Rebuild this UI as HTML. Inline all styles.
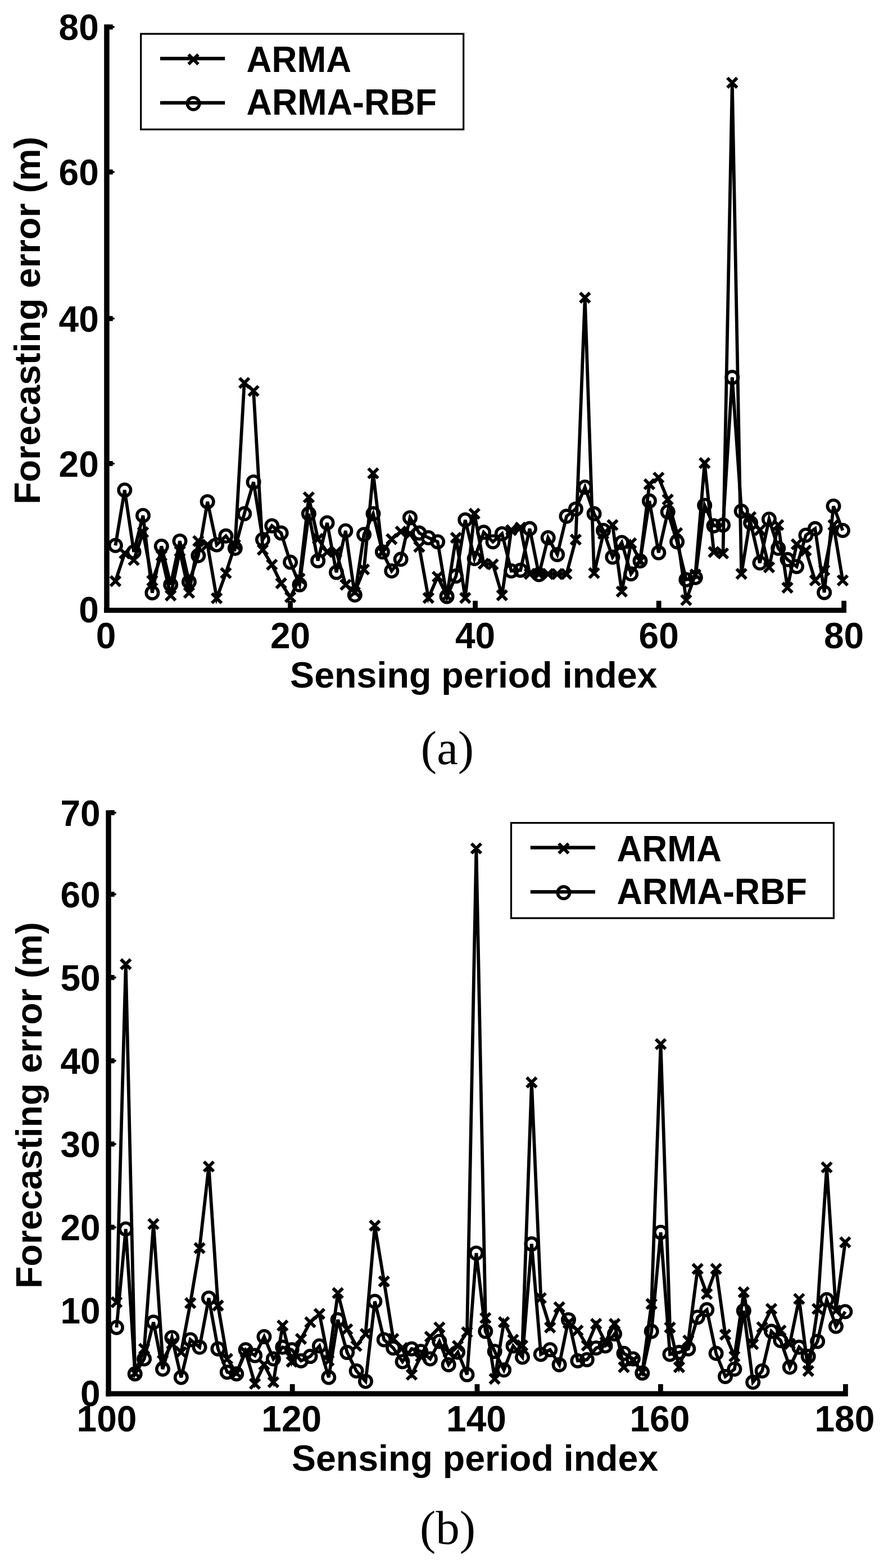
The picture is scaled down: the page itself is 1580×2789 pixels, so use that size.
<!DOCTYPE html>
<html lang="en">
<head>
<meta charset="utf-8">
<title>Forecasting error</title>
<style>
html,body{margin:0;padding:0;background:#fff}
body{width:1580px;height:2789px;overflow:hidden}
figure{margin:0;padding:0;display:block;width:1580px}
svg{display:block}
</style>
</head>
<body>
<figure id="fig-a">
<svg width="1580" height="1395" viewBox="0 0 1580 1395">
<g fill="none" stroke="#000" stroke-width="5.8" stroke-linejoin="miter" stroke-linecap="butt">
<polyline points="205.4,970.2 221.8,871.7 238.1,981.8 254.5,917 270.9,1054.4 287.3,971.5 303.7,1040.1 320,962.4 336.4,1035 352.8,988.3 369.2,892.4 385.6,968.9 401.9,953.3 418.3,975.3 434.7,913.8 451.1,857.4 467.5,959.8 483.8,935.2 500.2,948.1 516.6,1000 533,1040.1 549.4,913.8 565.7,997.4 582.1,930 598.5,1018.1 614.9,944.2 631.3,1058.3 647.6,950.7 664,913.8 680.4,981.8 696.8,1015.5 713.2,994.8 729.5,920.9 745.9,948.1 762.3,956.5 778.7,963.7 795.1,1060.9 811.4,1024.6 827.8,924.8 844.2,993.5 860.6,946.8 877,963.7 893.3,949.4 909.7,1015.5 926.1,1014.2 942.5,940.3 958.9,1022 975.2,956.5 991.6,986.4 1008,918.3 1024.4,905.4 1040.8,866.5 1057.1,913.8 1073.5,943.5 1089.9,990.9 1106.3,965 1122.7,1020.7 1139,997.8 1155.4,891.1 1171.8,983.1 1188.2,910.5 1204.6,963.7 1220.9,1031.1 1237.3,1027.2 1253.7,898.9 1270.1,935.2 1286.5,933.9 1302.8,671.3 1319.2,909.2 1335.6,930 1352,1001.3 1368.4,923.5 1384.7,975.3 1401.1,995.3 1417.5,1007.7 1433.9,952 1450.3,940.3 1466.6,1053.9 1483,900.2 1499.4,943.5"/>
<polyline points="205.4,1033.7 221.8,984.4 238.1,996.1 254.5,946.8 270.9,1032.9 287.3,988.3 303.7,1059.2 320,980.5 336.4,1054.4 352.8,962.4 369.2,968.9 385.6,1064.1 401.9,1019.4 418.3,968.9 434.7,681.1 451.1,695.4 467.5,977.9 483.8,1004.4 500.2,1037.5 516.6,1062.2 533,1029.1 549.4,884.6 565.7,958.5 582.1,981.8 598.5,981.8 614.9,1040.1 631.3,1053.1 647.6,1012.9 664,841.9 680.4,981.8 696.8,959 713.2,945.5 729.5,949.4 745.9,972.7 762.3,1063.5 778.7,1025.9 795.1,1059.6 811.4,956.5 827.8,1063.5 844.2,913.8 860.6,1002.6 877,1003.9 893.3,1058.8 909.7,942.9 926.1,938.4 942.5,1020.7 958.9,1021 975.2,1021 991.6,1021 1008,1021 1024.4,959.8 1040.8,529.5 1057.1,1019.4 1073.5,949.4 1089.9,933.9 1106.3,1052.2 1122.7,966.3 1139,997.4 1155.4,861.3 1171.8,849.6 1188.2,888.5 1204.6,948.1 1220.9,1067.4 1237.3,1022 1253.7,823.7 1270.1,981.8 1286.5,984.4 1302.8,147.2 1319.2,1020.7 1335.6,919.6 1352,942.9 1368.4,1009 1384.7,933.9 1401.1,1045.3 1417.5,968.1 1433.9,979.2 1450.3,1032.4 1466.6,1014.2 1483,933.9 1499.4,1032.4"/>
</g>
<g fill="none" stroke="#000" stroke-width="5.6">
<circle cx="205.4" cy="970.2" r="10.7"/>
<circle cx="221.8" cy="871.7" r="10.7"/>
<circle cx="238.1" cy="981.8" r="10.7"/>
<circle cx="254.5" cy="917" r="10.7"/>
<circle cx="270.9" cy="1054.4" r="10.7"/>
<circle cx="287.3" cy="971.5" r="10.7"/>
<circle cx="303.7" cy="1040.1" r="10.7"/>
<circle cx="320" cy="962.4" r="10.7"/>
<circle cx="336.4" cy="1035" r="10.7"/>
<circle cx="352.8" cy="988.3" r="10.7"/>
<circle cx="369.2" cy="892.4" r="10.7"/>
<circle cx="385.6" cy="968.9" r="10.7"/>
<circle cx="401.9" cy="953.3" r="10.7"/>
<circle cx="418.3" cy="975.3" r="10.7"/>
<circle cx="434.7" cy="913.8" r="10.7"/>
<circle cx="451.1" cy="857.4" r="10.7"/>
<circle cx="467.5" cy="959.8" r="10.7"/>
<circle cx="483.8" cy="935.2" r="10.7"/>
<circle cx="500.2" cy="948.1" r="10.7"/>
<circle cx="516.6" cy="1000" r="10.7"/>
<circle cx="533" cy="1040.1" r="10.7"/>
<circle cx="549.4" cy="913.8" r="10.7"/>
<circle cx="565.7" cy="997.4" r="10.7"/>
<circle cx="582.1" cy="930" r="10.7"/>
<circle cx="598.5" cy="1018.1" r="10.7"/>
<circle cx="614.9" cy="944.2" r="10.7"/>
<circle cx="631.3" cy="1058.3" r="10.7"/>
<circle cx="647.6" cy="950.7" r="10.7"/>
<circle cx="664" cy="913.8" r="10.7"/>
<circle cx="680.4" cy="981.8" r="10.7"/>
<circle cx="696.8" cy="1015.5" r="10.7"/>
<circle cx="713.2" cy="994.8" r="10.7"/>
<circle cx="729.5" cy="920.9" r="10.7"/>
<circle cx="745.9" cy="948.1" r="10.7"/>
<circle cx="762.3" cy="956.5" r="10.7"/>
<circle cx="778.7" cy="963.7" r="10.7"/>
<circle cx="795.1" cy="1060.9" r="10.7"/>
<circle cx="811.4" cy="1024.6" r="10.7"/>
<circle cx="827.8" cy="924.8" r="10.7"/>
<circle cx="844.2" cy="993.5" r="10.7"/>
<circle cx="860.6" cy="946.8" r="10.7"/>
<circle cx="877" cy="963.7" r="10.7"/>
<circle cx="893.3" cy="949.4" r="10.7"/>
<circle cx="909.7" cy="1015.5" r="10.7"/>
<circle cx="926.1" cy="1014.2" r="10.7"/>
<circle cx="942.5" cy="940.3" r="10.7"/>
<circle cx="958.9" cy="1022" r="10.7"/>
<circle cx="975.2" cy="956.5" r="10.7"/>
<circle cx="991.6" cy="986.4" r="10.7"/>
<circle cx="1008" cy="918.3" r="10.7"/>
<circle cx="1024.4" cy="905.4" r="10.7"/>
<circle cx="1040.8" cy="866.5" r="10.7"/>
<circle cx="1057.1" cy="913.8" r="10.7"/>
<circle cx="1073.5" cy="943.5" r="10.7"/>
<circle cx="1089.9" cy="990.9" r="10.7"/>
<circle cx="1106.3" cy="965" r="10.7"/>
<circle cx="1122.7" cy="1020.7" r="10.7"/>
<circle cx="1139" cy="997.8" r="10.7"/>
<circle cx="1155.4" cy="891.1" r="10.7"/>
<circle cx="1171.8" cy="983.1" r="10.7"/>
<circle cx="1188.2" cy="910.5" r="10.7"/>
<circle cx="1204.6" cy="963.7" r="10.7"/>
<circle cx="1220.9" cy="1031.1" r="10.7"/>
<circle cx="1237.3" cy="1027.2" r="10.7"/>
<circle cx="1253.7" cy="898.9" r="10.7"/>
<circle cx="1270.1" cy="935.2" r="10.7"/>
<circle cx="1286.5" cy="933.9" r="10.7"/>
<circle cx="1302.8" cy="671.3" r="10.7"/>
<circle cx="1319.2" cy="909.2" r="10.7"/>
<circle cx="1335.6" cy="930" r="10.7"/>
<circle cx="1352" cy="1001.3" r="10.7"/>
<circle cx="1368.4" cy="923.5" r="10.7"/>
<circle cx="1384.7" cy="975.3" r="10.7"/>
<circle cx="1401.1" cy="995.3" r="10.7"/>
<circle cx="1417.5" cy="1007.7" r="10.7"/>
<circle cx="1433.9" cy="952" r="10.7"/>
<circle cx="1450.3" cy="940.3" r="10.7"/>
<circle cx="1466.6" cy="1053.9" r="10.7"/>
<circle cx="1483" cy="900.2" r="10.7"/>
<circle cx="1499.4" cy="943.5" r="10.7"/>
</g>
<path d="M198.8 1027.1l13.2 13.2m0 -13.2l-13.2 13.2M215.2 977.8l13.2 13.2m0 -13.2l-13.2 13.2M231.5 989.5l13.2 13.2m0 -13.2l-13.2 13.2M247.9 940.2l13.2 13.2m0 -13.2l-13.2 13.2M264.3 1026.3l13.2 13.2m0 -13.2l-13.2 13.2M280.7 981.7l13.2 13.2m0 -13.2l-13.2 13.2M297.1 1052.6l13.2 13.2m0 -13.2l-13.2 13.2M313.4 973.9l13.2 13.2m0 -13.2l-13.2 13.2M329.8 1047.8l13.2 13.2m0 -13.2l-13.2 13.2M346.2 955.8l13.2 13.2m0 -13.2l-13.2 13.2M362.6 962.3l13.2 13.2m0 -13.2l-13.2 13.2M379 1057.5l13.2 13.2m0 -13.2l-13.2 13.2M395.3 1012.8l13.2 13.2m0 -13.2l-13.2 13.2M411.7 962.3l13.2 13.2m0 -13.2l-13.2 13.2M428.1 674.5l13.2 13.2m0 -13.2l-13.2 13.2M444.5 688.8l13.2 13.2m0 -13.2l-13.2 13.2M460.9 971.3l13.2 13.2m0 -13.2l-13.2 13.2M477.2 997.8l13.2 13.2m0 -13.2l-13.2 13.2M493.6 1030.9l13.2 13.2m0 -13.2l-13.2 13.2M510 1055.6l13.2 13.2m0 -13.2l-13.2 13.2M526.4 1022.5l13.2 13.2m0 -13.2l-13.2 13.2M542.8 878l13.2 13.2m0 -13.2l-13.2 13.2M559.1 951.9l13.2 13.2m0 -13.2l-13.2 13.2M575.5 975.2l13.2 13.2m0 -13.2l-13.2 13.2M591.9 975.2l13.2 13.2m0 -13.2l-13.2 13.2M608.3 1033.5l13.2 13.2m0 -13.2l-13.2 13.2M624.7 1046.5l13.2 13.2m0 -13.2l-13.2 13.2M641 1006.3l13.2 13.2m0 -13.2l-13.2 13.2M657.4 835.3l13.2 13.2m0 -13.2l-13.2 13.2M673.8 975.2l13.2 13.2m0 -13.2l-13.2 13.2M690.2 952.4l13.2 13.2m0 -13.2l-13.2 13.2M706.6 938.9l13.2 13.2m0 -13.2l-13.2 13.2M722.9 942.8l13.2 13.2m0 -13.2l-13.2 13.2M739.3 966.1l13.2 13.2m0 -13.2l-13.2 13.2M755.7 1056.9l13.2 13.2m0 -13.2l-13.2 13.2M772.1 1019.3l13.2 13.2m0 -13.2l-13.2 13.2M788.5 1053l13.2 13.2m0 -13.2l-13.2 13.2M804.8 949.9l13.2 13.2m0 -13.2l-13.2 13.2M821.2 1056.9l13.2 13.2m0 -13.2l-13.2 13.2M837.6 907.2l13.2 13.2m0 -13.2l-13.2 13.2M854 996l13.2 13.2m0 -13.2l-13.2 13.2M870.4 997.3l13.2 13.2m0 -13.2l-13.2 13.2M886.7 1052.2l13.2 13.2m0 -13.2l-13.2 13.2M903.1 936.3l13.2 13.2m0 -13.2l-13.2 13.2M919.5 931.8l13.2 13.2m0 -13.2l-13.2 13.2M935.9 1014.1l13.2 13.2m0 -13.2l-13.2 13.2M952.3 1014.4l13.2 13.2m0 -13.2l-13.2 13.2M968.6 1014.4l13.2 13.2m0 -13.2l-13.2 13.2M985 1014.4l13.2 13.2m0 -13.2l-13.2 13.2M1001.4 1014.4l13.2 13.2m0 -13.2l-13.2 13.2M1017.8 953.2l13.2 13.2m0 -13.2l-13.2 13.2M1034.2 522.9l13.2 13.2m0 -13.2l-13.2 13.2M1050.5 1012.8l13.2 13.2m0 -13.2l-13.2 13.2M1066.9 942.8l13.2 13.2m0 -13.2l-13.2 13.2M1083.3 927.3l13.2 13.2m0 -13.2l-13.2 13.2M1099.7 1045.6l13.2 13.2m0 -13.2l-13.2 13.2M1116.1 959.7l13.2 13.2m0 -13.2l-13.2 13.2M1132.4 990.8l13.2 13.2m0 -13.2l-13.2 13.2M1148.8 854.7l13.2 13.2m0 -13.2l-13.2 13.2M1165.2 843l13.2 13.2m0 -13.2l-13.2 13.2M1181.6 881.9l13.2 13.2m0 -13.2l-13.2 13.2M1198 941.5l13.2 13.2m0 -13.2l-13.2 13.2M1214.3 1060.8l13.2 13.2m0 -13.2l-13.2 13.2M1230.7 1015.4l13.2 13.2m0 -13.2l-13.2 13.2M1247.1 817.1l13.2 13.2m0 -13.2l-13.2 13.2M1263.5 975.2l13.2 13.2m0 -13.2l-13.2 13.2M1279.9 977.8l13.2 13.2m0 -13.2l-13.2 13.2M1296.2 140.6l13.2 13.2m0 -13.2l-13.2 13.2M1312.6 1014.1l13.2 13.2m0 -13.2l-13.2 13.2M1329 913l13.2 13.2m0 -13.2l-13.2 13.2M1345.4 936.3l13.2 13.2m0 -13.2l-13.2 13.2M1361.8 1002.4l13.2 13.2m0 -13.2l-13.2 13.2M1378.1 927.3l13.2 13.2m0 -13.2l-13.2 13.2M1394.5 1038.7l13.2 13.2m0 -13.2l-13.2 13.2M1410.9 961.5l13.2 13.2m0 -13.2l-13.2 13.2M1427.3 972.6l13.2 13.2m0 -13.2l-13.2 13.2M1443.7 1025.8l13.2 13.2m0 -13.2l-13.2 13.2M1460 1007.6l13.2 13.2m0 -13.2l-13.2 13.2M1476.4 927.3l13.2 13.2m0 -13.2l-13.2 13.2M1492.8 1025.8l13.2 13.2m0 -13.2l-13.2 13.2" fill="none" stroke="#000" stroke-width="5.8" stroke-linecap="square"/>
<g fill="#000">
<rect x="185.2" y="43.4" width="9.5" height="1046.6"/>
<rect x="185.2" y="1081" width="1320.8" height="9"/>
<rect x="512.1" y="1068.6" width="8.8" height="13"/>
<rect x="841.2" y="1068.6" width="8.8" height="13"/>
<rect x="1167.8" y="1068.6" width="8.8" height="13"/>
<rect x="1497.2" y="1068.6" width="8.8" height="13"/>
<rect x="193.7" y="43.5" width="7" height="9"/>
<rect x="199.7" y="46.3" width="4" height="3.4"/>
<rect x="193.7" y="301.4" width="7" height="9"/>
<rect x="199.7" y="304.2" width="4" height="3.4"/>
<rect x="193.7" y="562.1" width="7" height="9"/>
<rect x="199.7" y="564.9" width="4" height="3.4"/>
<rect x="193.7" y="820" width="7" height="9"/>
<rect x="199.7" y="822.8" width="4" height="3.4"/>
</g>
<g font-family='"Liberation Sans", Arial, Helvetica, sans-serif' font-weight="bold" font-size="64" fill="#000">
<text x="188.6" y="1153" text-anchor="middle">0</text>
<text x="516.5" y="1153" text-anchor="middle">20</text>
<text x="845.6" y="1153" text-anchor="middle">40</text>
<text x="1172.2" y="1153" text-anchor="middle">60</text>
<text x="1501.6" y="1153" text-anchor="middle">80</text>
<text x="175.8" y="71" text-anchor="end">80</text>
<text x="175.8" y="329" text-anchor="end">60</text>
<text x="175.8" y="589.5" text-anchor="end">40</text>
<text x="175.8" y="847.5" text-anchor="end">20</text>
<text x="175.8" y="1107" text-anchor="end">0</text>
<text x="842.8" y="1222.8" text-anchor="middle" textLength="653.4" lengthAdjust="spacingAndGlyphs">Sensing period index</text>
<text transform="translate(70.8 570) rotate(-90)" text-anchor="middle" textLength="654" lengthAdjust="spacingAndGlyphs">Forecasting error (m)</text>
</g>
<text x="796" y="1358.6" text-anchor="middle" font-family='"Liberation Serif", "Times New Roman", serif' font-size="85" fill="#000">(a)</text>
<rect x="250.7" y="60.2" width="574" height="170" fill="#fff" stroke="#000" stroke-width="3.2"/>
<g fill="none" stroke="#000">
<path d="M285 104.2h115.2M285 182.8h115.2" stroke-width="6.3"/>
<path d="M337.5 99l13.2 13.2m0 -13.2l-13.2 13.2" stroke-width="5.8" stroke-linecap="square"/>
<circle cx="344.1" cy="184.3" r="10.7" stroke-width="5.6"/>
</g>
<g font-family='"Liberation Sans", Arial, Helvetica, sans-serif' font-weight="bold" font-size="65" fill="#000">
<text x="438.6" y="128.4" textLength="186.5" lengthAdjust="spacingAndGlyphs">ARMA</text>
<text x="438.6" y="204.1" textLength="338.6" lengthAdjust="spacingAndGlyphs">ARMA-RBF</text>
</g>
</svg>
</figure>
<figure id="fig-b">
<svg width="1580" height="1394" viewBox="0 1395 1580 1394">
<g fill="none" stroke="#000" stroke-width="5.8" stroke-linejoin="miter" stroke-linecap="butt">
<polyline points="207.4,2361.2 223.8,2186 240.2,2443.7 256.6,2417 273.1,2351.8 289.5,2435.2 305.9,2379.2 322.3,2450 338.7,2382.9 355.1,2396.3 371.5,2308.9 387.9,2399.2 404.3,2440.7 420.7,2443.7 437.1,2400.7 453.6,2411.1 470,2377.6 486.4,2417 502.8,2396.3 519.2,2400.7 535.6,2420.4 552,2412.6 568.4,2394 584.8,2450 601.2,2347.4 617.7,2405.6 634.1,2438.5 650.5,2457 666.9,2314.8 683.3,2382.9 699.7,2397.7 716.1,2422 732.5,2399.2 748.9,2403.7 765.4,2417 781.8,2385.9 798.2,2427.4 814.6,2405.1 831,2445.1 847.4,2228.9 863.8,2368.1 880.2,2403.7 896.6,2436.8 913,2394 929.5,2414 945.9,2212.6 962.3,2408.9 978.7,2400.7 995.1,2427.4 1011.5,2347.4 1027.9,2420.4 1044.3,2418.5 1060.7,2397.7 1077.1,2394 1093.5,2372.6 1110,2407.2 1126.4,2417 1142.8,2442.2 1159.2,2368.1 1175.6,2191.9 1192,2408.9 1208.4,2405.6 1224.8,2399.2 1241.2,2342.9 1257.7,2329.6 1274.1,2407.2 1290.5,2448.4 1306.9,2435.2 1323.3,2331.4 1339.7,2458.5 1356.1,2438.5 1372.5,2368.1 1388.9,2384.4 1405.3,2431.8 1421.8,2396.3 1438.2,2412.6 1454.6,2385.9 1471,2311.8 1487.4,2359.2 1503.8,2333"/>
<polyline points="207.4,2316.3 223.8,1715 240.2,2442.2 256.6,2399.2 273.1,2177.1 289.5,2420 305.9,2390.3 322.3,2405.1 338.7,2317.8 355.1,2220 371.5,2074.9 387.9,2322.2 404.3,2417 420.7,2442.2 437.1,2405.1 453.6,2461.4 470,2427.4 486.4,2458.5 502.8,2357.8 519.2,2422 535.6,2381.5 552,2351.8 568.4,2337 584.8,2420 601.2,2300 617.7,2364.4 634.1,2394 650.5,2372.6 666.9,2180 683.3,2279.3 699.7,2381.5 716.1,2397.7 732.5,2445.1 748.9,2412.6 765.4,2377.6 781.8,2361.2 798.2,2405.1 814.6,2394 831,2369.6 847.4,1509.1 863.8,2344.4 880.2,2452.5 896.6,2351.8 913,2382.9 929.5,2393.3 945.9,1925.3 962.3,2308.9 978.7,2361.2 995.1,2325.2 1011.5,2353.3 1027.9,2366.6 1044.3,2393.3 1060.7,2354.8 1077.1,2387.4 1093.5,2354.8 1110,2431.8 1126.4,2420 1142.8,2440.7 1159.2,2319.3 1175.6,1857.2 1192,2361.2 1208.4,2431.8 1224.8,2384.4 1241.2,2257 1257.7,2301.5 1274.1,2257 1290.5,2374 1306.9,2412.6 1323.3,2298.5 1339.7,2390.8 1356.1,2360.7 1372.5,2328.1 1388.9,2366.6 1405.3,2390.3 1421.8,2310.4 1438.2,2438.5 1454.6,2328.1 1471,2076.4 1487.4,2331.1 1503.8,2209.7"/>
</g>
<g fill="none" stroke="#000" stroke-width="5.6">
<circle cx="207.4" cy="2361.2" r="10.7"/>
<circle cx="223.8" cy="2186" r="10.7"/>
<circle cx="240.2" cy="2443.7" r="10.7"/>
<circle cx="256.6" cy="2417" r="10.7"/>
<circle cx="273.1" cy="2351.8" r="10.7"/>
<circle cx="289.5" cy="2435.2" r="10.7"/>
<circle cx="305.9" cy="2379.2" r="10.7"/>
<circle cx="322.3" cy="2450" r="10.7"/>
<circle cx="338.7" cy="2382.9" r="10.7"/>
<circle cx="355.1" cy="2396.3" r="10.7"/>
<circle cx="371.5" cy="2308.9" r="10.7"/>
<circle cx="387.9" cy="2399.2" r="10.7"/>
<circle cx="404.3" cy="2440.7" r="10.7"/>
<circle cx="420.7" cy="2443.7" r="10.7"/>
<circle cx="437.1" cy="2400.7" r="10.7"/>
<circle cx="453.6" cy="2411.1" r="10.7"/>
<circle cx="470" cy="2377.6" r="10.7"/>
<circle cx="486.4" cy="2417" r="10.7"/>
<circle cx="502.8" cy="2396.3" r="10.7"/>
<circle cx="519.2" cy="2400.7" r="10.7"/>
<circle cx="535.6" cy="2420.4" r="10.7"/>
<circle cx="552" cy="2412.6" r="10.7"/>
<circle cx="568.4" cy="2394" r="10.7"/>
<circle cx="584.8" cy="2450" r="10.7"/>
<circle cx="601.2" cy="2347.4" r="10.7"/>
<circle cx="617.7" cy="2405.6" r="10.7"/>
<circle cx="634.1" cy="2438.5" r="10.7"/>
<circle cx="650.5" cy="2457" r="10.7"/>
<circle cx="666.9" cy="2314.8" r="10.7"/>
<circle cx="683.3" cy="2382.9" r="10.7"/>
<circle cx="699.7" cy="2397.7" r="10.7"/>
<circle cx="716.1" cy="2422" r="10.7"/>
<circle cx="732.5" cy="2399.2" r="10.7"/>
<circle cx="748.9" cy="2403.7" r="10.7"/>
<circle cx="765.4" cy="2417" r="10.7"/>
<circle cx="781.8" cy="2385.9" r="10.7"/>
<circle cx="798.2" cy="2427.4" r="10.7"/>
<circle cx="814.6" cy="2405.1" r="10.7"/>
<circle cx="831" cy="2445.1" r="10.7"/>
<circle cx="847.4" cy="2228.9" r="10.7"/>
<circle cx="863.8" cy="2368.1" r="10.7"/>
<circle cx="880.2" cy="2403.7" r="10.7"/>
<circle cx="896.6" cy="2436.8" r="10.7"/>
<circle cx="913" cy="2394" r="10.7"/>
<circle cx="929.5" cy="2414" r="10.7"/>
<circle cx="945.9" cy="2212.6" r="10.7"/>
<circle cx="962.3" cy="2408.9" r="10.7"/>
<circle cx="978.7" cy="2400.7" r="10.7"/>
<circle cx="995.1" cy="2427.4" r="10.7"/>
<circle cx="1011.5" cy="2347.4" r="10.7"/>
<circle cx="1027.9" cy="2420.4" r="10.7"/>
<circle cx="1044.3" cy="2418.5" r="10.7"/>
<circle cx="1060.7" cy="2397.7" r="10.7"/>
<circle cx="1077.1" cy="2394" r="10.7"/>
<circle cx="1093.5" cy="2372.6" r="10.7"/>
<circle cx="1110" cy="2407.2" r="10.7"/>
<circle cx="1126.4" cy="2417" r="10.7"/>
<circle cx="1142.8" cy="2442.2" r="10.7"/>
<circle cx="1159.2" cy="2368.1" r="10.7"/>
<circle cx="1175.6" cy="2191.9" r="10.7"/>
<circle cx="1192" cy="2408.9" r="10.7"/>
<circle cx="1208.4" cy="2405.6" r="10.7"/>
<circle cx="1224.8" cy="2399.2" r="10.7"/>
<circle cx="1241.2" cy="2342.9" r="10.7"/>
<circle cx="1257.7" cy="2329.6" r="10.7"/>
<circle cx="1274.1" cy="2407.2" r="10.7"/>
<circle cx="1290.5" cy="2448.4" r="10.7"/>
<circle cx="1306.9" cy="2435.2" r="10.7"/>
<circle cx="1323.3" cy="2331.4" r="10.7"/>
<circle cx="1339.7" cy="2458.5" r="10.7"/>
<circle cx="1356.1" cy="2438.5" r="10.7"/>
<circle cx="1372.5" cy="2368.1" r="10.7"/>
<circle cx="1388.9" cy="2384.4" r="10.7"/>
<circle cx="1405.3" cy="2431.8" r="10.7"/>
<circle cx="1421.8" cy="2396.3" r="10.7"/>
<circle cx="1438.2" cy="2412.6" r="10.7"/>
<circle cx="1454.6" cy="2385.9" r="10.7"/>
<circle cx="1471" cy="2311.8" r="10.7"/>
<circle cx="1487.4" cy="2359.2" r="10.7"/>
<circle cx="1503.8" cy="2333" r="10.7"/>
</g>
<path d="M200.8 2309.7l13.2 13.2m0 -13.2l-13.2 13.2M217.2 1708.4l13.2 13.2m0 -13.2l-13.2 13.2M233.6 2435.6l13.2 13.2m0 -13.2l-13.2 13.2M250 2392.6l13.2 13.2m0 -13.2l-13.2 13.2M266.4 2170.5l13.2 13.2m0 -13.2l-13.2 13.2M282.9 2413.4l13.2 13.2m0 -13.2l-13.2 13.2M299.3 2383.7l13.2 13.2m0 -13.2l-13.2 13.2M315.7 2398.5l13.2 13.2m0 -13.2l-13.2 13.2M332.1 2311.2l13.2 13.2m0 -13.2l-13.2 13.2M348.5 2213.4l13.2 13.2m0 -13.2l-13.2 13.2M364.9 2068.3l13.2 13.2m0 -13.2l-13.2 13.2M381.3 2315.6l13.2 13.2m0 -13.2l-13.2 13.2M397.7 2410.4l13.2 13.2m0 -13.2l-13.2 13.2M414.1 2435.6l13.2 13.2m0 -13.2l-13.2 13.2M430.5 2398.5l13.2 13.2m0 -13.2l-13.2 13.2M447 2454.8l13.2 13.2m0 -13.2l-13.2 13.2M463.4 2420.8l13.2 13.2m0 -13.2l-13.2 13.2M479.8 2451.9l13.2 13.2m0 -13.2l-13.2 13.2M496.2 2351.2l13.2 13.2m0 -13.2l-13.2 13.2M512.6 2415.4l13.2 13.2m0 -13.2l-13.2 13.2M529 2374.9l13.2 13.2m0 -13.2l-13.2 13.2M545.4 2345.2l13.2 13.2m0 -13.2l-13.2 13.2M561.8 2330.4l13.2 13.2m0 -13.2l-13.2 13.2M578.2 2413.4l13.2 13.2m0 -13.2l-13.2 13.2M594.6 2293.4l13.2 13.2m0 -13.2l-13.2 13.2M611.1 2357.8l13.2 13.2m0 -13.2l-13.2 13.2M627.5 2387.4l13.2 13.2m0 -13.2l-13.2 13.2M643.9 2366l13.2 13.2m0 -13.2l-13.2 13.2M660.3 2173.4l13.2 13.2m0 -13.2l-13.2 13.2M676.7 2272.7l13.2 13.2m0 -13.2l-13.2 13.2M693.1 2374.9l13.2 13.2m0 -13.2l-13.2 13.2M709.5 2391.1l13.2 13.2m0 -13.2l-13.2 13.2M725.9 2438.5l13.2 13.2m0 -13.2l-13.2 13.2M742.3 2406l13.2 13.2m0 -13.2l-13.2 13.2M758.8 2371l13.2 13.2m0 -13.2l-13.2 13.2M775.2 2354.6l13.2 13.2m0 -13.2l-13.2 13.2M791.6 2398.5l13.2 13.2m0 -13.2l-13.2 13.2M808 2387.4l13.2 13.2m0 -13.2l-13.2 13.2M824.4 2363l13.2 13.2m0 -13.2l-13.2 13.2M840.8 1502.5l13.2 13.2m0 -13.2l-13.2 13.2M857.2 2337.8l13.2 13.2m0 -13.2l-13.2 13.2M873.6 2445.9l13.2 13.2m0 -13.2l-13.2 13.2M890 2345.2l13.2 13.2m0 -13.2l-13.2 13.2M906.4 2376.3l13.2 13.2m0 -13.2l-13.2 13.2M922.9 2386.7l13.2 13.2m0 -13.2l-13.2 13.2M939.3 1918.7l13.2 13.2m0 -13.2l-13.2 13.2M955.7 2302.3l13.2 13.2m0 -13.2l-13.2 13.2M972.1 2354.6l13.2 13.2m0 -13.2l-13.2 13.2M988.5 2318.6l13.2 13.2m0 -13.2l-13.2 13.2M1004.9 2346.7l13.2 13.2m0 -13.2l-13.2 13.2M1021.3 2360l13.2 13.2m0 -13.2l-13.2 13.2M1037.7 2386.7l13.2 13.2m0 -13.2l-13.2 13.2M1054.1 2348.2l13.2 13.2m0 -13.2l-13.2 13.2M1070.5 2380.8l13.2 13.2m0 -13.2l-13.2 13.2M1087 2348.2l13.2 13.2m0 -13.2l-13.2 13.2M1103.4 2425.2l13.2 13.2m0 -13.2l-13.2 13.2M1119.8 2413.4l13.2 13.2m0 -13.2l-13.2 13.2M1136.2 2434.1l13.2 13.2m0 -13.2l-13.2 13.2M1152.6 2312.7l13.2 13.2m0 -13.2l-13.2 13.2M1169 1850.6l13.2 13.2m0 -13.2l-13.2 13.2M1185.4 2354.6l13.2 13.2m0 -13.2l-13.2 13.2M1201.8 2425.2l13.2 13.2m0 -13.2l-13.2 13.2M1218.2 2377.8l13.2 13.2m0 -13.2l-13.2 13.2M1234.6 2250.4l13.2 13.2m0 -13.2l-13.2 13.2M1251.1 2294.9l13.2 13.2m0 -13.2l-13.2 13.2M1267.5 2250.4l13.2 13.2m0 -13.2l-13.2 13.2M1283.9 2367.4l13.2 13.2m0 -13.2l-13.2 13.2M1300.3 2406l13.2 13.2m0 -13.2l-13.2 13.2M1316.7 2291.9l13.2 13.2m0 -13.2l-13.2 13.2M1333.1 2384.2l13.2 13.2m0 -13.2l-13.2 13.2M1349.5 2354.1l13.2 13.2m0 -13.2l-13.2 13.2M1365.9 2321.5l13.2 13.2m0 -13.2l-13.2 13.2M1382.3 2360l13.2 13.2m0 -13.2l-13.2 13.2M1398.7 2383.7l13.2 13.2m0 -13.2l-13.2 13.2M1415.2 2303.8l13.2 13.2m0 -13.2l-13.2 13.2M1431.6 2431.9l13.2 13.2m0 -13.2l-13.2 13.2M1448 2321.5l13.2 13.2m0 -13.2l-13.2 13.2M1464.4 2069.8l13.2 13.2m0 -13.2l-13.2 13.2M1480.8 2324.5l13.2 13.2m0 -13.2l-13.2 13.2M1497.2 2203.1l13.2 13.2m0 -13.2l-13.2 13.2" fill="none" stroke="#000" stroke-width="5.8" stroke-linecap="square"/>
<g fill="#000">
<rect x="188.4" y="1441.2" width="9.3" height="1042.5"/>
<rect x="188.4" y="2474.4" width="1320.4" height="9.3"/>
<rect x="515.8" y="2462" width="8.8" height="13"/>
<rect x="844.6" y="2462" width="8.8" height="13"/>
<rect x="1171" y="2462" width="8.8" height="13"/>
<rect x="1500" y="2462" width="8.8" height="13"/>
<rect x="196.7" y="1441" width="7" height="9"/>
<rect x="202.7" y="1443.8" width="4" height="3.4"/>
<rect x="196.7" y="1586.1" width="7" height="9"/>
<rect x="202.7" y="1588.9" width="4" height="3.4"/>
<rect x="196.7" y="1734.2" width="7" height="9"/>
<rect x="202.7" y="1737" width="4" height="3.4"/>
<rect x="196.7" y="1882.3" width="7" height="9"/>
<rect x="202.7" y="1885.1" width="4" height="3.4"/>
<rect x="196.7" y="2030.4" width="7" height="9"/>
<rect x="202.7" y="2033.2" width="4" height="3.4"/>
<rect x="196.7" y="2178.5" width="7" height="9"/>
<rect x="202.7" y="2181.3" width="4" height="3.4"/>
</g>
<g font-family='"Liberation Sans", Arial, Helvetica, sans-serif' font-weight="bold" font-size="64" fill="#000">
<text x="190" y="2546" text-anchor="middle">100</text>
<text x="518.7" y="2546" text-anchor="middle">120</text>
<text x="847.5" y="2546" text-anchor="middle">140</text>
<text x="1173.9" y="2546" text-anchor="middle">160</text>
<text x="1502.9" y="2546" text-anchor="middle">180</text>
<text x="178.7" y="1468.6" text-anchor="end">70</text>
<text x="178.7" y="1613.5" text-anchor="end">60</text>
<text x="178.7" y="1761.5" text-anchor="end">50</text>
<text x="178.7" y="1909.7" text-anchor="end">40</text>
<text x="178.7" y="2057.8" text-anchor="end">30</text>
<text x="178.7" y="2206" text-anchor="end">20</text>
<text x="178.7" y="2353.5" text-anchor="end">10</text>
<text x="178.7" y="2501" text-anchor="end">0</text>
<text x="845.1" y="2615.8" text-anchor="middle" textLength="652.3" lengthAdjust="spacingAndGlyphs">Sensing period index</text>
<text transform="translate(73.7 1966) rotate(-90)" text-anchor="middle" textLength="651.7" lengthAdjust="spacingAndGlyphs">Forecasting error (m)</text>
</g>
<text x="796.5" y="2745.7" text-anchor="middle" font-family='"Liberation Serif", "Times New Roman", serif' font-size="85" fill="#000">(b)</text>
<rect x="909.5" y="1463.7" width="573.9" height="169.4" fill="#fff" stroke="#000" stroke-width="3.2"/>
<g fill="none" stroke="#000">
<path d="M943.8 1507.7h115.2M943.8 1586.3h115.2" stroke-width="6.3"/>
<path d="M996.3 1502.5l13.2 13.2m0 -13.2l-13.2 13.2" stroke-width="5.8" stroke-linecap="square"/>
<circle cx="1002.9" cy="1587.8" r="10.7" stroke-width="5.6"/>
</g>
<g font-family='"Liberation Sans", Arial, Helvetica, sans-serif' font-weight="bold" font-size="65" fill="#000">
<text x="1097.4" y="1531.9" textLength="186.5" lengthAdjust="spacingAndGlyphs">ARMA</text>
<text x="1097.4" y="1607.6" textLength="338.6" lengthAdjust="spacingAndGlyphs">ARMA-RBF</text>
</g>
</svg>
</figure>
</body>
</html>
